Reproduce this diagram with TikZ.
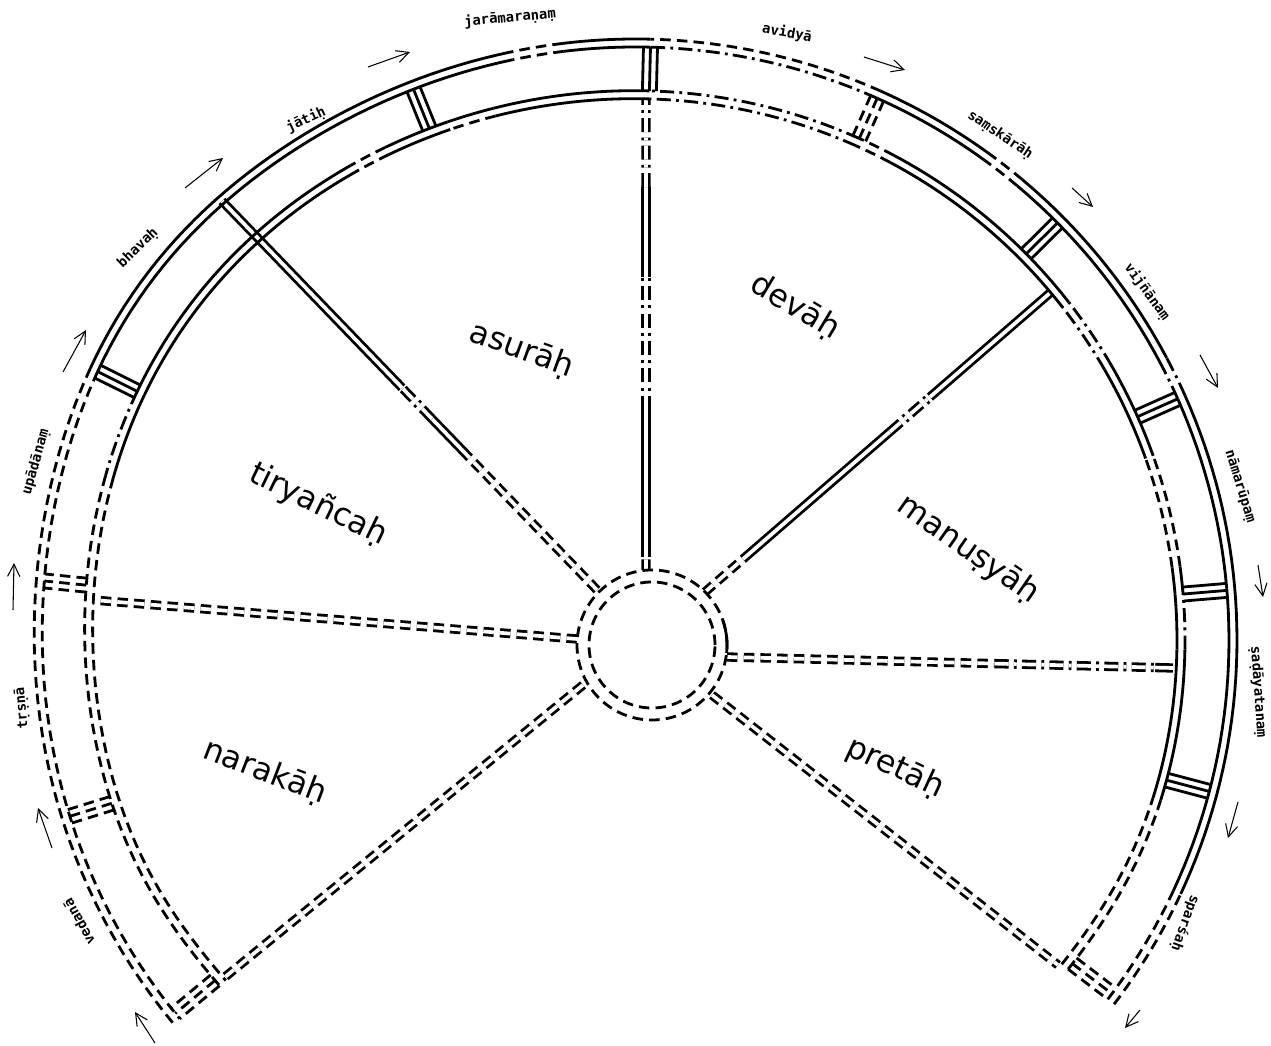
\documentclass[tikz,border=0pt]{standalone}
\usepackage{fontspec}
\newfontfamily\labfont{DejaVu Sans Mono}
\newfontfamily\secfont{DejaVu Sans}
\usetikzlibrary{calc,arrows.meta}
\pgfmathdeclarefunction{rmid}{1}{\pgfmathparse{545+9*exp(max(-9,-((#1-145)/30)*((#1-145)/30)))-8*exp(max(-9,-((#1-222)/14)*((#1-222)/14)))-6*exp(max(-9,-((#1+40)/14)*((#1+40)/14)))}}
\pgfmathdeclarefunction{rout}{1}{\pgfmathparse{601+10*exp(max(-9,-((#1-145)/22)*((#1-145)/22)))}}
\newcommand\arcpiece[4]{\draw[#1] plot[variable=\t, domain=#3:#4, samples=40] ({\t}:{#2});}
\newcommand\edgeseg[4]{\arcpiece{#3}{rout(\t)}{#1}{#2}\arcpiece{#4}{rout(\t)-8}{#1}{#2}}
\newcommand\rimseg[4]{\arcpiece{#3}{rmid(\t)+4}{#1}{#2}\arcpiece{#4}{rmid(\t)-4}{#1}{#2}}
\newcommand\sepr[3]{\begin{scope}[rotate=#1]\foreach \o in {#3}{\draw[#2] ({rmid(#1)+4},\o) -- ({rout(#1)-8},\o);}\end{scope}}
\newcommand\spk[5]{\draw[#5,dbl] ($(#1)!#3!(#2)$) -- ($(#1)!#4!(#2)$);}
\begin{document}
\begin{tikzpicture}[x=0.02cm,y=0.02cm,
  sl/.style={line width=1.6pt},
  ds/.style={line width=1.6pt,dash pattern=on 6pt off 3.5pt},
  dd/.style={line width=1.6pt,dash pattern=on 8pt off 3pt on 1.6pt off 3pt},
  dbl/.style={double=white,double distance=2.1pt},
  arr/.style={line width=0.6pt,-{Straight Barb[length=7pt,width=7pt]}},
  lab/.style={font=\labfont\bfseries\fontsize{7.9}{9}\selectfont,inner sep=0pt},
  sec/.style={font=\secfont\fontsize{18}{20}\selectfont,inner sep=0pt}]
\fill[white] (0,0) rectangle (1271,1045);
\useasboundingbox (0,0) rectangle (1271,1045);
\coordinate (C) at (636,405);
\coordinate (H) at (652,400);
% spokes
\coordinate (T0) at (646,475); \coordinate (T1) at (646,946);
\coordinate (UL0) at (597,455); \coordinate (UL1) at (222,844);
\coordinate (UR0) at (705,453); \coordinate (UR1) at (1050,752);
\coordinate (L0) at (577,406); \coordinate (L1) at (93,445);
\coordinate (R0) at (727,388); \coordinate (R1) at (1173,377);
\coordinate (LL0) at (583,360); \coordinate (LL1) at (225,68);
\coordinate (LR0) at (712,350); \coordinate (LR1) at (1058,80);
\spk{T0}{T1}{0}{0.028}{ds}
\spk{T0}{T1}{0.028}{0.34}{sl}
\spk{T0}{T1}{0.34}{0.622}{dd}
\spk{T0}{T1}{0.622}{0.813}{sl}
\spk{T0}{T1}{0.813}{1}{dd}
\spk{UL0}{UL1}{0}{0.34}{ds}
\spk{UL0}{UL1}{0.34}{0.44}{sl}
\spk{UL0}{UL1}{0.44}{0.52}{dd}
\spk{UL0}{UL1}{0.52}{1}{sl}
\spk{UR0}{UR1}{0}{0.11}{ds}
\spk{UR0}{UR1}{0.11}{0.536}{sl}
\spk{UR0}{UR1}{0.536}{0.652}{dd}
\spk{UR0}{UR1}{0.652}{1}{sl}
\spk{L0}{L1}{0}{1}{ds}
\spk{R0}{R1}{0}{0.6}{ds}
\spk{R0}{R1}{0.6}{0.96}{dd}
\spk{R0}{R1}{0.96}{1}{sl}
\spk{LL0}{LL1}{0}{1}{ds}
\spk{LR0}{LR1}{0}{1}{ds}
% hub
\draw[ds] (H) circle[radius=75];
\draw[ds] (H) circle[radius=63];
\draw[sl] ($(H)+(-6:75)$) arc[start angle=-6,end angle=19,radius=75];
% wheel rim and band
\begin{scope}[shift={(C)}]
\edgeseg{153.5}{219.7}{ds}{ds}
\edgeseg{102}{153.5}{sl}{sl}
\edgeseg{97}{102}{ds}{ds}
\edgeseg{88.6}{97}{sl}{sl}
\edgeseg{66}{88.6}{ds}{dd}
\edgeseg{54}{66}{sl}{sl}
\edgeseg{50}{54}{ds}{ds}
\edgeseg{28}{50}{sl}{sl}
\edgeseg{24}{28}{dd}{dd}
\edgeseg{-25}{24}{sl}{sl}
\edgeseg{-37.3}{-25}{ds}{ds}
\rimseg{162.8}{219.7}{ds}{ds}
\rimseg{153.5}{162.8}{dd}{sl}
\rimseg{121}{153.5}{sl}{sl}
\rimseg{117}{121}{ds}{ds}
\rimseg{110}{117}{sl}{sl}
\rimseg{105}{110}{sl}{ds}
\rimseg{88.6}{105}{sl}{sl}
\rimseg{66}{88.6}{dd}{dd}
\rimseg{62}{66}{ds}{ds}
\rimseg{38}{62}{sl}{sl}
\rimseg{30}{38}{dd}{dd}
\rimseg{19.6}{30}{sl}{sl}
\rimseg{7.7}{19.6}{ds}{ds}
\rimseg{4.8}{7.7}{sl}{sl}
\rimseg{-1}{4.8}{dd}{sl}
\rimseg{-17}{-1}{sl}{sl}
\rimseg{-37.3}{-17}{ds}{ds}
\sepr{112}{sl}{-7,0,7}
\sepr{88.6}{sl}{-7,0,7}
\sepr{153.5}{sl}{-7,0,7}
\sepr{174.3}{ds}{-7,0,7}
\sepr{197.3}{ds}{-7,0,7}
\sepr{219.7}{ds}{-14,-7,0}
\sepr{66}{ds}{-7,0,7}
\sepr{44.7}{sl}{-7,0,7}
\sepr{24}{sl}{-7,0,7}
\sepr{4.8}{sl}{-7,0,7}
\sepr{-14.8}{sl}{-7,0,7}
\sepr{-37.3}{ds}{0,7,14}
\end{scope}
% arrows
\draw[arr] (155,2) -- (135,33);
\draw[arr] (52,197) -- (38,237);
\draw[arr] (13,435) -- (14,482);
\draw[arr] (63,673) -- (86,715);
\draw[arr] (185,857) -- (223,887);
\draw[arr] (368,978) -- (410,993);
\draw[arr] (864,988) -- (905,975);
\draw[arr] (1072,857) -- (1093,838);
\draw[arr] (1200,690) -- (1218,657);
\draw[arr] (1258,480) -- (1263,448);
\draw[arr] (1238,243) -- (1228,207);
\draw[arr] (1140,35) -- (1125,17);
% nidana labels
\node[lab,rotate=5] (n1) at (510,1027) {jarāmaraṇaṃ};
\node[lab,rotate=-10] (n2) at (787,1012) {avidyā};
\node[lab,rotate=-34] (n3) at (1000,910) {saṃskārāḥ};
\node[lab,rotate=-54] (n4) at (1147,753) {vijñānaṃ};
\node[lab,rotate=-73] (n5) at (1240,559) {nāmarūpaṃ};
\node[lab,rotate=-86] (n6) at (1258,353) {ṣaḍāyatanaṃ};
\node[lab,rotate=-110] (n7) at (1185,122) {sparśaḥ};
\node[lab,rotate=119] (n8) at (79,123) {vedanā};
\node[lab,rotate=95] (n9) at (22,337) {tṛṣṇā};
\node[lab,rotate=74] (n10) at (36,583) {upādānaṃ};
\node[lab,rotate=44] (n11) at (138,797) {bhavaḥ};
\node[lab,rotate=25] (n12) at (306,925) {jātiḥ};
% realm labels
\node[sec,rotate=-20] (s1) at (522,695) {asurāḥ};
\node[sec,rotate=-31] (s2) at (795,738) {devāḥ};
\node[sec,rotate=-26] (s3) at (318,540) {tiryañcaḥ};
\node[sec,rotate=-35] (s4) at (968,495) {manuṣyāḥ};
\node[sec,rotate=-21] (s5) at (265,273) {narakāḥ};
\node[sec,rotate=-25] (s6) at (895,277) {pretāḥ};
\end{tikzpicture}
\end{document}
